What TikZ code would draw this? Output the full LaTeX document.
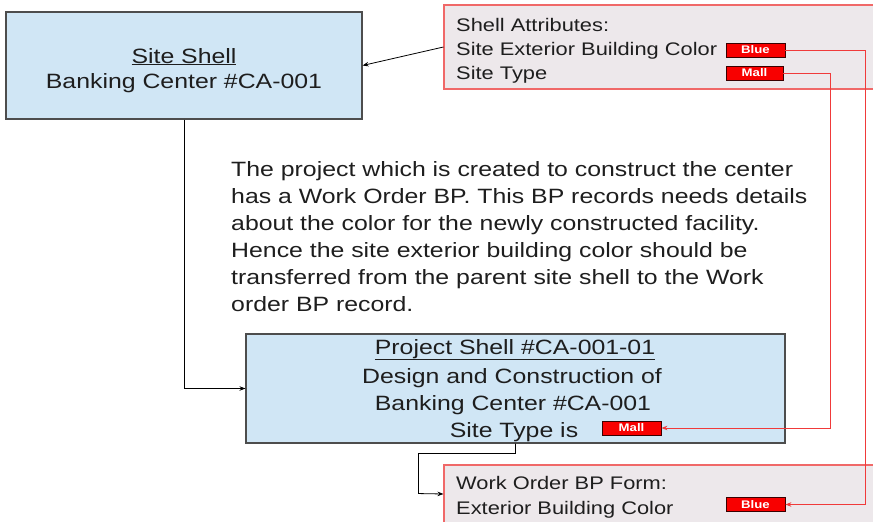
\documentclass[tikz,border=0pt]{standalone}
\usepackage{fontspec}
\setmainfont{Liberation Sans}[FakeStretch=1.2]
\usetikzlibrary{arrows.meta,calc}
\definecolor{boxblue}{HTML}{D0E6F5}
\definecolor{boxedge}{HTML}{4D4D4D}
\definecolor{attrfill}{HTML}{EDE8EB}
\definecolor{attredge}{HTML}{F06868}
\definecolor{redln}{HTML}{F03A3A}
\definecolor{tagred}{HTML}{F80000}
\definecolor{tagedge}{HTML}{3A0000}
\definecolor{txt}{HTML}{1E1E1E}
\begin{document}
\begin{tikzpicture}[x=1pt,y=-1pt,
  bluebox/.style={draw=boxedge,fill=boxblue,line width=1.1pt,inner sep=0pt},
  attrbox/.style={draw=attredge,fill=attrfill,line width=1.1pt,inner sep=0pt},
  big/.style={font=\fontsize{20.7}{27}\selectfont,text=txt,inner sep=0pt},
  small/.style={font=\fontsize{18.2}{24}\selectfont,text=txt,inner sep=0pt},
  tag/.style={draw=tagedge,fill=tagred,line width=0.8pt,inner sep=0pt,minimum width=59pt,minimum height=14pt,text=white,font=\fontsize{11}{11}\selectfont\bfseries},
  arr/.style={draw=black,line width=0.8pt,-{Stealth[length=6pt,width=4.5pt]}},
  redarr/.style={draw=redln,line width=0.9pt,-{Stealth[length=6pt,width=4.5pt]}}
]
\path[use as bounding box] (0,0) rectangle (873,522);
\clip (0,0) rectangle (873,522);

% boxes
\node[bluebox,minimum width=356pt,minimum height=107pt] (site) at (184,65.5) {};
\node[attrbox,minimum width=436pt,minimum height=84pt] (attr) at (662,47) {};
\node[bluebox,minimum width=539pt,minimum height=109pt] (proj) at (515.5,388.5) {};
\node[attrbox,minimum width=436pt,minimum height=58pt] (wo) at (662,494) {};

% site shell text
\node[big,anchor=base] (t1) at (184,63) {\underline{Site Shell}};
\node[big,anchor=base] (t2) at (184,88) {Banking Center \#CA-001};

% attribute text
\node[small,anchor=base west] (a1) at (456,31) {Shell Attributes:};
\node[small,anchor=base west] (a2) at (456,55) {Site Exterior Building Color};
\node[small,anchor=base west] (a3) at (456,79) {Site Type};
\node[tag] (blue1) at (755.5,50) {Blue};
\node[tag,minimum width=57pt] (mall1) at (754.5,73) {Mall};

% middle text (base = baseline of last line)
\node[big,anchor=base west,align=left] (mid) at (231,311) {The project which is created to construct the center\\
has a Work Order BP. This BP records needs details\\
about the color for the newly constructed facility.\\
Hence the site exterior building color should be\\
transferred from the parent site shell to the Work\\
order BP record.};

% project shell text
\node[big,anchor=base] (p1) at (515,354) {\underline{Project Shell \#CA-001-01}};
\node[big,anchor=base] (p2) at (512,383) {Design and Construction of};
\node[big,anchor=base] (p3) at (513,410) {Banking Center \#CA-001};
\node[big,anchor=base] (p4) at (514,437) {Site Type is};
\node[tag] (mall2) at (631.5,428) {Mall};

% work order text
\node[small,anchor=base west] (w1) at (456,489) {Work Order BP Form:};
\node[small,anchor=base west] (w2) at (456,514) {Exterior Building Color};
\node[tag] (blue2) at (755.5,504.5) {Blue};

% connectors
\draw[arr] (attr.west) -- (site.east);
\draw[arr] (site.south) |- (proj.west);
\draw[arr] (proj.south) -- ++(0,10) -| ++(-97,40) -- (wo.west);
\draw[redarr] (blue1.east) -- ++(80,0) |- (blue2.east);
\draw[redarr] (mall1.east) -- ++(47,0) |- (mall2.east);
\end{tikzpicture}
\end{document}
